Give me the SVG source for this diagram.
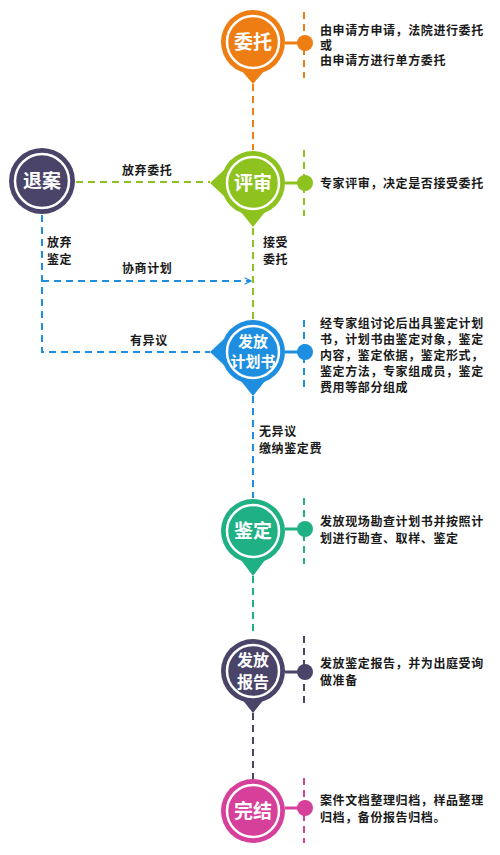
<svg xmlns="http://www.w3.org/2000/svg" width="500" height="855" viewBox="0 0 500 855">
<defs>
<style>
.t{font-family:"Liberation Sans","Noto Sans CJK SC",sans-serif;font-size:12px;font-weight:700;fill:#1a1a1a;letter-spacing:0.6px}
.n{font-family:"Liberation Sans","Noto Sans CJK SC",sans-serif;font-weight:700;fill:#fff;text-anchor:middle}
.ring{fill:none;stroke:#fff;stroke-width:2.5}
.d{fill:none;stroke-width:2;stroke-dasharray:7 5}
.s{stroke-width:3}
</style>
<marker id="ar" viewBox="0 0 10 10" refX="9" refY="5" markerWidth="8" markerHeight="8" orient="auto" markerUnits="userSpaceOnUse">
<path d="M1,1 L9,5 L1,9" fill="none" stroke="#1e8fe0" stroke-width="1.6"/>
</marker>
</defs>
<rect width="500" height="855" fill="#fff"/>

<g id="connectors">
<line class="d" x1="253" y1="84" x2="253" y2="150" stroke="#ee7d14"/>
<line class="d" x1="253" y1="228" x2="253" y2="320" stroke="#8dc21f"/>
<line class="d" x1="253" y1="396" x2="253" y2="498" stroke="#1e8fe0"/>
<line class="d" x1="253" y1="576" x2="253" y2="636" stroke="#1fb083"/>
<line class="d" x1="253" y1="713" x2="253" y2="779" stroke="#4a4468"/>
<line class="d" x1="76" y1="182" x2="210" y2="182" stroke="#8dc21f"/>
<polyline class="d" points="42,215 42,352 210,352" stroke="#1e8fe0"/>
<line class="d" x1="42" y1="281" x2="251" y2="281" stroke="#1e8fe0" marker-end="url(#ar)"/>
<line class="d" x1="304" y1="12" x2="304" y2="78" stroke="#ee7d14"/>
<line class="d" x1="304" y1="150" x2="304" y2="216" stroke="#8dc21f"/>
<line class="d" x1="304" y1="320" x2="304" y2="390" stroke="#1e8fe0"/>
<line class="d" x1="304" y1="498" x2="304" y2="564" stroke="#1fb083"/>
<line class="d" x1="304" y1="636" x2="304" y2="704" stroke="#4a4468"/>
<line class="d" x1="304" y1="778" x2="304" y2="843" stroke="#d6409a"/>
<text class="t" x="122" y="175">放弃委托</text>
<text class="t" x="47" y="247">放弃</text>
<text class="t" x="47" y="264">鉴定</text>
<text class="t" x="122" y="273">协商计划</text>
<text class="t" x="263" y="247">接受</text>
<text class="t" x="263" y="264">委托</text>
<text class="t" x="130" y="345">有异议</text>
<text class="t" x="259" y="436">无异议</text>
<text class="t" x="259" y="453">缴纳鉴定费</text>
</g>

<g id="node-weituo">
<path d="M241,70 L253,84 L265,70 Z" fill="#ee7d14"/>
<circle cx="253" cy="42" r="32" fill="#ee7d14"/>
<circle class="ring" cx="253" cy="42" r="26"/>
<line class="s" x1="285" y1="43" x2="300" y2="43" stroke="#ee7d14"/>
<circle cx="305" cy="43" r="8" fill="#ee7d14"/>
<text class="n" x="253" y="49" font-size="19">委托</text>
<text class="t" x="320" y="35">由申请方申请，法院进行委托</text>
<text class="t" x="320" y="50">或</text>
<text class="t" x="320" y="65">由申请方进行单方委托</text>
</g>

<g id="node-pingshen">
<path d="M224,170 L210,183 L224,196 Z M241,212 L253,227 L265,212 Z" fill="#8dc21f"/>
<circle cx="253" cy="183" r="32" fill="#8dc21f"/>
<circle class="ring" cx="253" cy="183" r="26"/>
<line class="s" x1="285" y1="183" x2="300" y2="183" stroke="#8dc21f"/>
<circle cx="305" cy="183" r="8" fill="#8dc21f"/>
<text class="n" x="253" y="190" font-size="19">评审</text>
<text class="t" x="320" y="188">专家评审，决定是否接受委托</text>
</g>

<g id="node-tuian">
<circle cx="42" cy="181" r="33" fill="#4a4468"/>
<circle class="ring" cx="42" cy="181" r="27"/>
<text class="n" x="42" y="188" font-size="19">退案</text>
</g>

<g id="node-jihuashu">
<path d="M224,339 L210,352 L224,365 Z M241,381 L253,396 L265,381 Z" fill="#1e8fe0"/>
<circle cx="253" cy="352" r="32" fill="#1e8fe0"/>
<circle class="ring" cx="253" cy="352" r="26"/>
<line class="s" x1="285" y1="352" x2="300" y2="352" stroke="#1e8fe0"/>
<circle cx="305" cy="352" r="8" fill="#1e8fe0"/>
<text class="n" x="253" y="347" font-size="15">发放</text>
<text class="n" x="253" y="367" font-size="15">计划书</text>
<text class="t" x="320" y="328">经专家组讨论后出具鉴定计划</text>
<text class="t" x="320" y="344">书，计划书由鉴定对象，鉴定</text>
<text class="t" x="320" y="360">内容，鉴定依据，鉴定形式，</text>
<text class="t" x="320" y="376">鉴定方法，专家组成员，鉴定</text>
<text class="t" x="320" y="392">费用等部分组成</text>
</g>

<g id="node-jianding">
<path d="M241,560 L253,576 L265,560 Z" fill="#1fb083"/>
<circle cx="253" cy="531" r="32" fill="#1fb083"/>
<circle class="ring" cx="253" cy="531" r="26"/>
<line class="s" x1="285" y1="529" x2="300" y2="529" stroke="#1fb083"/>
<circle cx="305" cy="529" r="8" fill="#1fb083"/>
<text class="n" x="253" y="538" font-size="19">鉴定</text>
<text class="t" x="320" y="526">发放现场勘查计划书并按照计</text>
<text class="t" x="320" y="543">划进行勘查、取样、鉴定</text>
</g>

<g id="node-baogao">
<path d="M241,698 L253,713 L265,698 Z" fill="#4a4468"/>
<circle cx="253" cy="671" r="32" fill="#4a4468"/>
<circle class="ring" cx="253" cy="671" r="26"/>
<line class="s" x1="285" y1="672" x2="300" y2="672" stroke="#4a4468"/>
<circle cx="305" cy="672" r="8" fill="#4a4468"/>
<text class="n" x="253" y="666" font-size="16">发放</text>
<text class="n" x="253" y="688" font-size="16">报告</text>
<text class="t" x="320" y="668">发放鉴定报告，并为出庭受询</text>
<text class="t" x="320" y="685">做准备</text>
</g>

<g id="node-wanjie">
<circle cx="253" cy="811" r="32" fill="#d6409a"/>
<circle class="ring" cx="253" cy="811" r="26"/>
<line class="s" x1="285" y1="808" x2="300" y2="808" stroke="#d6409a"/>
<circle cx="305" cy="808" r="8" fill="#d6409a"/>
<text class="n" x="253" y="818" font-size="19">完结</text>
<text class="t" x="320" y="805">案件文档整理归档，样品整理</text>
<text class="t" x="320" y="822">归档，备份报告归档。</text>
</g>
</svg>
